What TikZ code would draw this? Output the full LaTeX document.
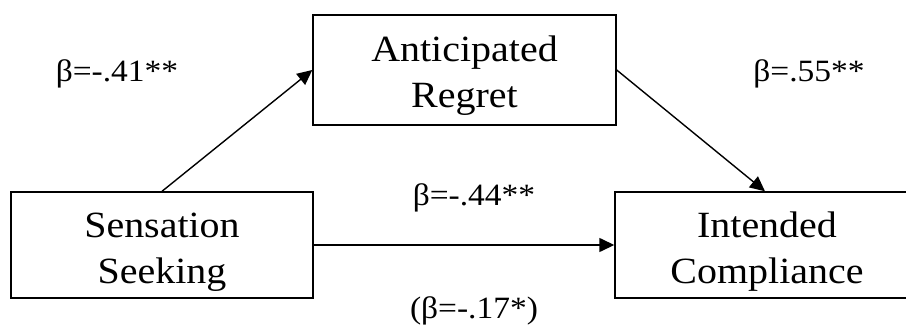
\documentclass[tikz,border=0pt]{standalone}
\usepackage{fontspec}
\setmainfont{Liberation Serif}[FakeStretch=1.08]
\usetikzlibrary{arrows.meta,calc}
\tikzset{
  varbox/.style={draw, line width=1.4pt, minimum width=302pt, minimum height=106pt,
    inner sep=0pt},
  boxtext/.style={align=center, inner sep=0pt, font=\fontsize{37}{46}\selectfont},
  path/.style={line width=1.4pt, -{Triangle[length=15pt, width=14pt]}},
  coef/.style={anchor=base, inner sep=0pt, font=\fontsize{31}{34}\selectfont}
}
\begin{document}
\begin{tikzpicture}[x=1pt, y=-1pt]
  \useasboundingbox (0,0) rectangle (906,329);
  \clip (0,0) rectangle (906,329);
  \fill[white] (0,0) rectangle (906,329);
  % the three variables (the right-hand box runs past the page edge)
  \node[varbox] (ss) at (162,245) {};
  \node[varbox, minimum width=303pt, minimum height=110pt] (ar) at (464.5,70) {};
  \node[varbox, minimum width=340pt] (ic) at (785,245) {};
  \node[boxtext] (sst) at ($(ss.center)+(0,7)$) {Sensation\\Seeking};
  \node[boxtext] (art) at ($(ar.center)+(0,6)$) {Anticipated\\Regret};
  \node[boxtext] (ict) at ($(ss.center)+(605,7)$) {Intended\\Compliance};
  % paths
  \draw[path] (ss.north) -- (ar.west);
  \draw[path] (ar.east) -- ($(ic.north)+(-20,0)$);
  \draw[path] (ss.east) -- (ic.west);
  % path coefficients
  \node[coef] (b1) at (117,82) {β=-.41**};
  \node[coef] (b2) at (809,82) {β=.55**};
  \node[coef] (b3) at (474,205) {β=-.44**};
  \node[coef] (b4) at (474,318) {(β=-.17*)};
\end{tikzpicture}
\end{document}
